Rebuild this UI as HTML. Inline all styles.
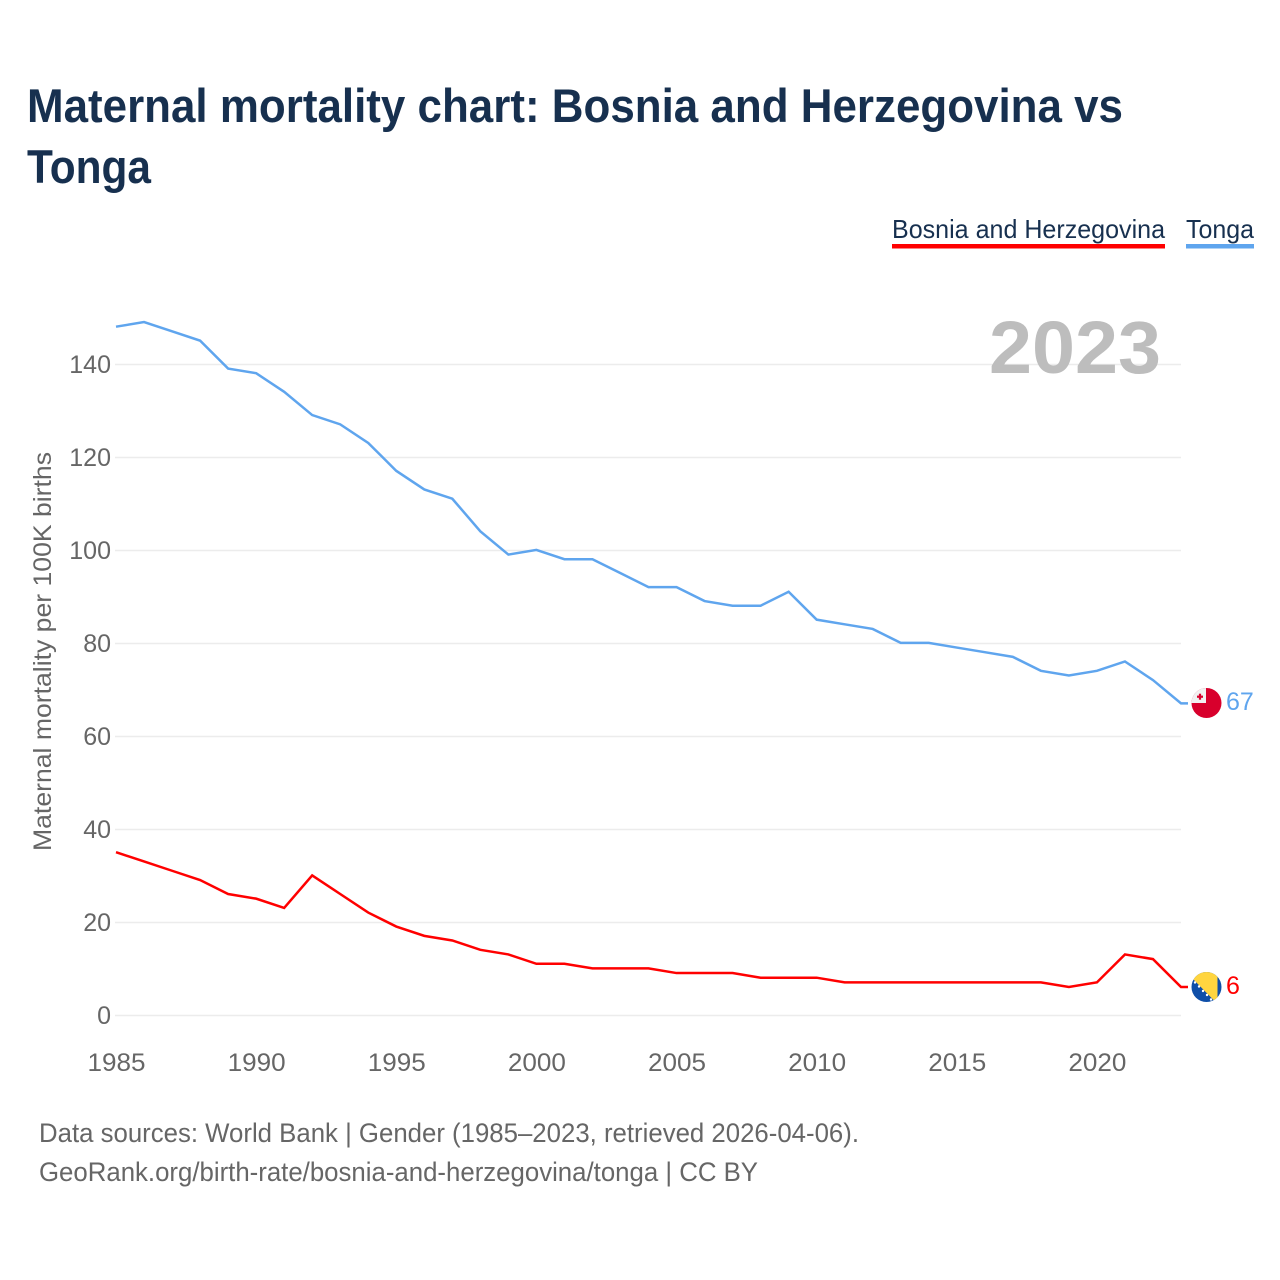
<!DOCTYPE html>
<html lang="en">
<head>
<meta charset="utf-8">
<title>Maternal mortality chart</title>
<style>
html,body{margin:0;padding:0;background:#fff;}
svg{display:block;}
text{font-family:"Liberation Sans",sans-serif;}
</style>
</head>
<body>
<svg id="chart" xmlns="http://www.w3.org/2000/svg" width="1280" height="1280" viewBox="0 0 1280 1280">
  <defs>
    <clipPath id="flag-clip-to"><circle cx="1206.5" cy="703" r="15"></circle></clipPath>
    <clipPath id="flag-clip-ba"><circle cx="1206.5" cy="987" r="15"></circle></clipPath>
  </defs>
  <rect x="0" y="0" width="1280" height="1280" fill="#ffffff"></rect>
  <text x="27" y="122" font-size="47" font-weight="700" fill="#17304f" textLength="1096" lengthAdjust="spacingAndGlyphs">Maternal mortality chart: Bosnia and Herzegovina vs</text>
  <text x="27" y="183" font-size="47" font-weight="700" fill="#17304f" textLength="124" lengthAdjust="spacingAndGlyphs">Tonga</text>

  <g>
    <text x="892" y="238" font-size="26" fill="#17304f" textLength="273" lengthAdjust="spacingAndGlyphs">Bosnia and Herzegovina</text>
    <rect x="892" y="244" width="273" height="4.5" fill="#ff0000"></rect>
  </g>
  <g>
    <text x="1186" y="238" font-size="26" fill="#17304f" textLength="68" lengthAdjust="spacingAndGlyphs">Tonga</text>
    <rect x="1186" y="244" width="68" height="4.5" fill="#5fa5ee"></rect>
  </g>

  <g id="grid"></g>
  <g id="y-ticks"></g>
  <g id="x-ticks"></g>

  <text x="1161" y="373" font-size="74" font-weight="700" fill="#bdbdbd" text-anchor="end" textLength="172" lengthAdjust="spacingAndGlyphs">2023</text>

  <text transform="translate(51 851) rotate(-90)" x="0" y="0" font-size="25" fill="#666666" textLength="399" lengthAdjust="spacingAndGlyphs">Maternal mortality per 100K births</text>

  <g id="series" transform="translate(0 -0.6)"></g>

  <g clip-path="url(#flag-clip-to)">
    <rect x="1191" y="688" width="31" height="31" fill="#d8002c"></rect>
    <rect x="1191" y="688" width="15" height="15" fill="#f1f1f1"></rect>
    <rect x="1197" y="695.6" width="6" height="2.2" fill="#d8002c"></rect>
    <rect x="1198.9" y="693.7" width="2.2" height="6" fill="#d8002c"></rect>
  </g>
  <g clip-path="url(#flag-clip-ba)">
    <rect x="1191" y="972" width="31" height="31" fill="#0f4fa8"></rect>
    <polygon points="1189,975 1189,970 1217.5,970 1217.5,1004" fill="#ffd53f"></polygon>
    <g fill="#ffffff">
      <circle cx="1195" cy="982.5" r="1.2"></circle>
      <circle cx="1199" cy="986.5" r="1.2"></circle>
      <circle cx="1203" cy="991" r="1.2"></circle>
      <circle cx="1207" cy="995" r="1.2"></circle>
      <circle cx="1211" cy="999.5" r="1.2"></circle>
    </g>
  </g>

  <text id="end-label-tonga" x="1226" y="710" font-size="25" fill="#5fa5ee"></text>
  <text id="end-label-bosnia" x="1226" y="994" font-size="25" fill="#ff0000"></text>

  <text x="39" y="1142" font-size="27" fill="#666666" textLength="820" lengthAdjust="spacingAndGlyphs">Data sources: World Bank | Gender (1985–2023, retrieved 2026-04-06).</text>
  <text x="39" y="1181" font-size="27" fill="#666666" textLength="719" lengthAdjust="spacingAndGlyphs">GeoRank.org/birth-rate/bosnia-and-herzegovina/tonga | CC BY</text>
</svg>
<script>
var years = [1985,1986,1987,1988,1989,1990,1991,1992,1993,1994,1995,1996,1997,1998,1999,2000,2001,2002,2003,2004,2005,2006,2007,2008,2009,2010,2011,2012,2013,2014,2015,2016,2017,2018,2019,2020,2021,2022,2023];
var tongaValues = [148,149,147,145,139,138,134,129,127,123,117,113,111,104,99,100,98,98,95,92,92,89,88,88,91,85,84,83,80,80,79,78,77,74,73,74,76,72,67];
var bosniaValues = [35,33,31,29,26,25,23,30,26,22,19,17,16,14,13,11,11,10,10,10,9,9,9,8,8,8,7,7,7,7,7,7,7,7,6,7,13,12,6];
var yTickValues = [0,20,40,60,80,100,120,140];
var xTickValues = [1985,1990,1995,2000,2005,2010,2015,2020];

var SVG_NS = 'http://www.w3.org/2000/svg';
function xScale(year) {
  return 116 + (year - 1985) * (1181 - 116) / (2023 - 1985);
}
function yScale(value) {
  return 1015.5 - value * (1015.5 - 364.5) / 140;
}

var gridGroup = document.getElementById('grid');
var yTickGroup = document.getElementById('y-ticks');
var xTickGroup = document.getElementById('x-ticks');
var seriesGroup = document.getElementById('series');

yTickValues.forEach(function (value) {
  var line = document.createElementNS(SVG_NS, 'line');
  
  
  line.setAttribute('x1', 115);
  line.setAttribute('x2', 1181);
  line.setAttribute('y1', yScale(value));
  line.setAttribute('y2', yScale(value));
  line.setAttribute('stroke', '#ececec');
  line.setAttribute('stroke-width', 1.5);
  gridGroup.appendChild(line);

  var label = document.createElementNS(SVG_NS, 'text');
  
  
  label.setAttribute('x', 111);
  label.setAttribute('y', yScale(value) + 8.5);
  label.setAttribute('text-anchor', 'end');
  label.setAttribute('font-size', 25);
  label.setAttribute('fill', '#666666');
  label.textContent = String(value);
  yTickGroup.appendChild(label);
});

xTickValues.forEach(function (year) {
  var label = document.createElementNS(SVG_NS, 'text');
  
  
  label.setAttribute('x', xScale(year) + 0.5);
  label.setAttribute('y', 1071);
  label.setAttribute('text-anchor', 'middle');
  label.setAttribute('font-size', 25);
  label.setAttribute('textLength', 58);
  label.setAttribute('lengthAdjust', 'spacingAndGlyphs');
  label.setAttribute('fill', '#666666');
  label.textContent = String(year);
  xTickGroup.appendChild(label);
});

function linePoints(values) {
  var pts = values.map(function (value, i) {
    return xScale(years[i]).toFixed(2) + ',' + yScale(value).toFixed(2);
  });
  var last = values[values.length - 1];
  pts.push((xScale(years[years.length - 1]) + 7).toFixed(2) + ',' + yScale(last).toFixed(2));
  return pts.join(' ');
}

var tongaLine = document.createElementNS(SVG_NS, 'polyline');


tongaLine.setAttribute('points', linePoints(tongaValues));
tongaLine.setAttribute('fill', 'none');
tongaLine.setAttribute('stroke', '#5fa5ee');
tongaLine.setAttribute('stroke-width', 2.5);
seriesGroup.appendChild(tongaLine);

var bosniaLine = document.createElementNS(SVG_NS, 'polyline');


bosniaLine.setAttribute('points', linePoints(bosniaValues));
bosniaLine.setAttribute('fill', 'none');
bosniaLine.setAttribute('stroke', '#ff0000');
bosniaLine.setAttribute('stroke-width', 2.5);
seriesGroup.appendChild(bosniaLine);

document.getElementById('end-label-tonga').textContent = String(tongaValues[tongaValues.length - 1]);
document.getElementById('end-label-bosnia').textContent = String(bosniaValues[bosniaValues.length - 1]);
</script>
</body>
</html>
